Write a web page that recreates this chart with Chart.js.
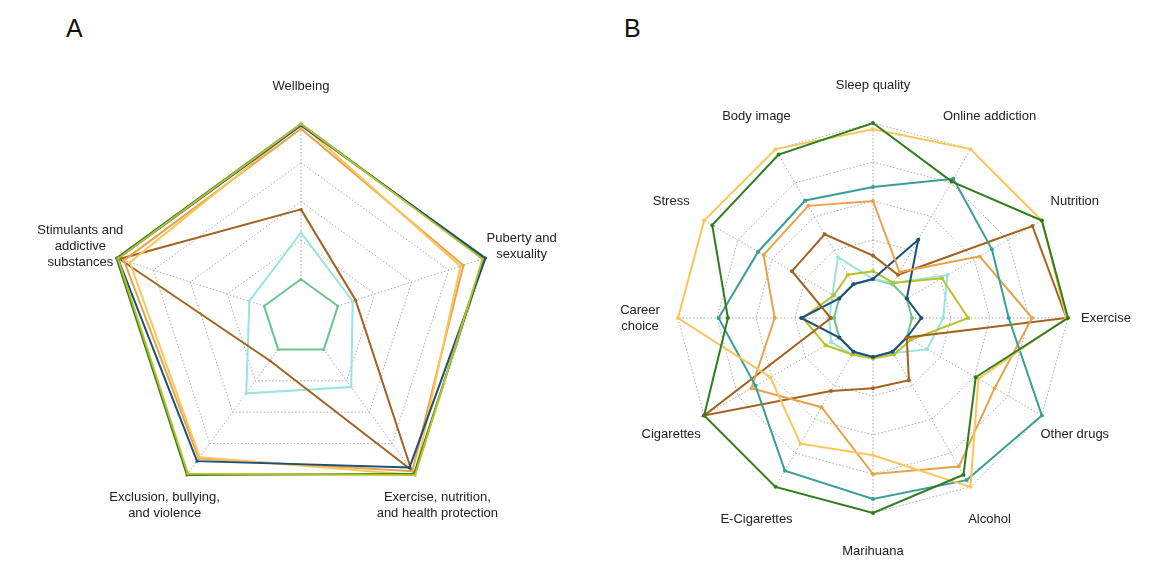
<!DOCTYPE html>
<html>
<head>
<meta charset="utf-8">
<script src="https://cdn.jsdelivr.net/npm/chart.js@4.4.1/dist/chart.umd.min.js"></script>
<style>
  html, body { margin: 0; padding: 0; background: #fff; }
  body { width: 1149px; height: 575px; position: relative; overflow: hidden; font-family: "Liberation Sans", Arial, sans-serif; }
  .panel { position: absolute; top: 16px; font-size: 25px; line-height: 25px; color: #111; }
  canvas { position: absolute; top: 0; }
</style>
</head>
<body>
<div class="panel" style="left:66px">A</div>
<div class="panel" style="left:624px">B</div>
<canvas id="chartA" width="575" height="575" style="left:0"></canvas>
<canvas id="chartB" width="574" height="575" style="left:575px"></canvas>
<script>
// panel A: topics
const topicsA = ['Wellbeing', ['Puberty and', 'sexuality'], ['Exercise, nutrition,', 'and health protection'],
  ['Exclusion, bullying,', 'and violence'], ['Stimulants and', 'addictive', 'substances']];
const aBlue      = [99, 100, 94, 89, 99];
const aDarkGreen = [100, 99, 99, 100, 100];
const aOlive     = [100, 98, 100, 99, 99];
const aYellow    = [100, 83, 100, 86, 91];
const aOrange    = [97, 85, 97, 87, 95];
const aBrown     = [45, 12, 96, 9, 98];
const aCyan      = [30, 10, 30, 35, 10];
const aGreen     = [0, 0, 0, 0, 0];

// panel B: topics
const topicsB = ['Sleep quality', 'Online addiction', 'Nutrition', 'Exercise', 'Other drugs', 'Alcohol',
  'Marihuana', 'E-Cigarettes', 'Cigarettes', ['Career', 'choice'], 'Stress', 'Body image'];
const bDarkGreen = [100, 76, 100, 100, 51, 91, 100, 100, 100, 68, 94, 96];
const bYellow    = [96, 100, 100, 99, 53, 100, 63, 68, 51, 100, 100, 100];
const bTeal      = [59, 78, 63, 62, 100, 95, 91, 88, 62, 74, 60, 62];
const bOrange    = [50, 9, 54, 77, 65, 85, 75, 41, 65, 38, 56, 58];
const bBrown     = [15, 7, 93, 99, 0, 21, 20, 29, 100, 2, 35, 37];
const bBlue      = [0, 33, 0, 6, 0, 0, 0, 0, 0, 21, 0, 0];
const bOlive     = [5, 1, 26, 36, 3, 2, 1, 2, 10, 20, 4, 7];
const bCyan      = [0, 1, 30, 20, 15, 1, 0, 2, 6, 3, 5, 20];
const bGreen     = [0, 0, 0, 0, 0, 0, 0, 0, 0, 0, 0, 0];

const C = {
  darkGreen: '#2f7d1d', blue: '#1d4f78', olive: '#b8c02a', yellow: '#fac65a', orange: '#e7a24c',
  brown: '#a3621f', cyan: '#97e5dc', green: '#6cc48d', teal: '#3a9e98'
};

function series(data, color, pr) {
  return {
    data, borderColor: color, backgroundColor: color, pointBackgroundColor: color,
    borderWidth: 2, pointRadius: pr, pointBorderWidth: 0, pointHoverRadius: pr, fill: false
  };
}

// white hole in the middle + topic labels around the web
const webExtras = {
  id: 'webExtras',
  beforeDatasetsDraw(chart) {
    const r = chart.scales.r, ctx = chart.ctx;
    const d = r.getDistanceFromCenterForValue(0) - 1;
    ctx.save();
    ctx.beginPath();
    chart.data.labels.forEach((l, i) => {
      const p = r.getPointPosition(i, d);
      i ? ctx.lineTo(p.x, p.y) : ctx.moveTo(p.x, p.y);
    });
    ctx.closePath();
    ctx.fillStyle = '#fff';
    ctx.fill();
    ctx.restore();
  },
  afterDraw(chart) {
    const r = chart.scales.r, ctx = chart.ctx;
    ctx.save();
    ctx.font = '13px "Liberation Sans", Arial, sans-serif';
    ctx.fillStyle = '#222';
    ctx.textAlign = 'center';
    ctx.textBaseline = 'middle';
    chart.data.labels.forEach((lab, i) => {
      const lines = [].concat(lab);
      const p = r.getPointPosition(i, r.drawingArea + 38);
      lines.forEach((t, k) => ctx.fillText(t, p.x, p.y + (k - (lines.length - 1) / 2) * 16));
    });
    ctx.restore();
  }
};

function radar(id, labels, datasets, padding) {
  return new Chart(document.getElementById(id), {
    type: 'radar',
    data: { labels, datasets },
    options: {
      responsive: false,
      animation: false,
      layout: { padding },
      plugins: { legend: { display: false }, tooltip: { enabled: false } },
      elements: { line: { tension: 0, borderJoinStyle: 'miter' } },
      scales: {
        r: {
          min: -25, max: 100,
          ticks: { display: false, stepSize: 25 },
          pointLabels: { display: false },
          grid: { color: '#ababab', lineWidth: 1 },
          border: { dash: [1.5, 2] },
          angleLines: { color: '#ababab', lineWidth: 1, borderDash: [1.5, 2] }
        }
      }
    },
    plugins: [webExtras]
  });
}

radar('chartA', topicsA, [
  series(aOlive, C.olive, 1.5),
  series(aBlue, C.blue, 1.5),
  series(aDarkGreen, C.darkGreen, 1.5),
  series(aYellow, C.yellow, 1.5),
  series(aOrange, C.orange, 1.5),
  series(aBrown, C.brown, 1.5),
  series(aCyan, C.cyan, 1.5),
  series(aGreen, C.green, 1.5)
], { left: 107, top: 124, right: 80, bottom: 63 });

radar('chartB', topicsB, [
  series(bDarkGreen, C.darkGreen, 2),
  series(bYellow, C.yellow, 2),
  series(bTeal, C.teal, 2),
  series(bOrange, C.orange, 2),
  series(bBrown, C.brown, 2),
  series(bBlue, C.blue, 2),
  series(bOlive, C.olive, 2),
  series(bCyan, C.cyan, 2),
  series(bGreen, C.green, 2)
], { left: 103, top: 123, right: 81, bottom: 62 });
</script>
</body>
</html>
